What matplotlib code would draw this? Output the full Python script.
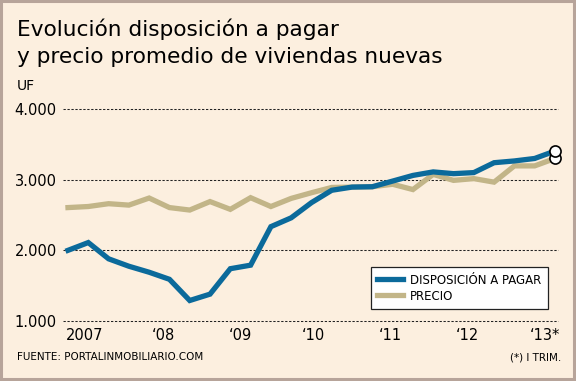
import matplotlib.pyplot as plt
from matplotlib.patches import Rectangle

# quarterly values, 2007 Q1 .. 2013 Q1 (UF)
disposicion = [2000, 2110, 1880, 1775, 1690, 1590, 1290, 1380, 1740, 1790,
               2335, 2460, 2675, 2850, 2895, 2900, 2980, 3060, 3110, 3085,
               3100, 3240, 3265, 3300, 3405]
precio = [2605, 2620, 2660, 2640, 2740, 2605, 2570, 2690, 2580, 2745,
          2620, 2735, 2815, 2890, 2895, 2900, 2935, 2860, 3075, 2990,
          3015, 2965, 3195, 3195, 3300]
year_labels = ["2007", "\u201808", "\u201809", "\u201810", "\u201811", "\u201812", "\u201813*"]
y_ticks = [1000, 2000, 3000, 4000]
y_labels = ["1.000", "2.000", "3.000", "4.000"]

bg = "#fcefdf"
blue = "#0b6a9b"
tan = "#c2b588"

fig = plt.figure(figsize=(5.76, 3.81), dpi=100, facecolor=bg)
fig.patches.append(Rectangle((0.002, 0.004), 0.994, 0.993, transform=fig.transFigure,
                             fill=False, edgecolor="#b7a49a", lw=2.2))

ax = fig.add_axes([63 / 576, 1 - 321 / 381, 495 / 576, 212 / 381])
ax.set_facecolor("none")
x = list(range(len(disposicion)))

for yv in y_ticks:
    ax.axhline(yv, color="#222222", lw=0.75, ls=(0, (2.2, 1.6)), zorder=1, clip_on=False)

ax.plot(x, precio, color=tan, lw=3.8, solid_joinstyle="miter", label="PRECIO", zorder=3)
ax.plot(x, disposicion, color=blue, lw=3.8, solid_joinstyle="miter",
        label="DISPOSICIÓN A PAGAR", zorder=4)
ax.plot(x[-1], disposicion[-1], "o", ms=8, mfc="white", mec="black", mew=1.2, zorder=6, clip_on=False)
ax.plot(x[-1], precio[-1], "o", ms=8, mfc="white", mec="black", mew=1.2, zorder=5, clip_on=False)

ax.set_xlim(-0.246, 24.15)
ax.set_ylim(1000, 4000)
for s in ax.spines.values():
    s.set_visible(False)

ax.set_yticks(y_ticks)
ax.set_yticklabels(y_labels, fontsize=10.5)
ax.set_xticks([0.8, 4.7, 8.5, 12.1, 15.9, 19.7, 23.5])
ax.set_xticklabels(year_labels, fontsize=10.5)
ax.tick_params(length=0, pad=5)
ax.tick_params(axis="y", pad=4.5)

h, l = ax.get_legend_handles_labels()
leg = ax.legend(h[::-1], l[::-1], loc="lower right", bbox_to_anchor=(548 / 576, 1 - 309 / 381),
                bbox_transform=fig.transFigure, borderaxespad=0, fontsize=8.5, frameon=True,
                fancybox=False, handlelength=2.2, handletextpad=0.6, borderpad=0.55,
                labelspacing=0.25)
leg.get_frame().set_edgecolor("#222222")
leg.get_frame().set_linewidth(0.9)
leg.get_frame().set_facecolor("white")
leg.get_frame().set_alpha(1)

fig.text(17 / 576, 1 - 36 / 381, "Evolución disposición a pagar", fontsize=15.6, va="baseline")
fig.text(17 / 576, 1 - 63 / 381, "y precio promedio de viviendas nuevas", fontsize=15.6, va="baseline")
fig.text(17 / 576, 1 - 90 / 381, "UF", fontsize=10, va="baseline")
fig.text(17 / 576, 1 - 360 / 381, "FUENTE: PORTALINMOBILIARIO.COM", fontsize=7.5, va="baseline")
fig.text(561 / 576, 1 - 360 / 381, "(*) I TRIM.", fontsize=7.5, va="baseline", ha="right")

fig.savefig("out.png", dpi=100, facecolor=bg)
